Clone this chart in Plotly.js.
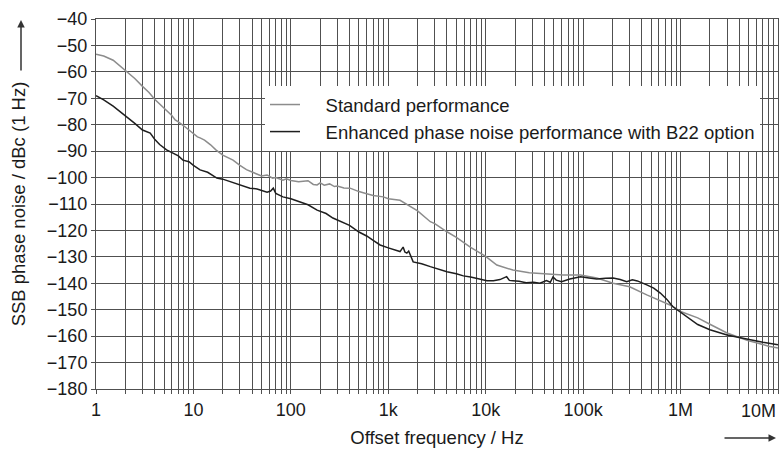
<!DOCTYPE html>
<html>
<head>
<meta charset="utf-8">
<script src="https://cdn.plot.ly/plotly-3.0.1.min.js"></script>
<style>html,body{margin:0;padding:0;background:#fff;}#chart{width:781px;height:451px;}</style>
</head>
<body>
<div id="chart"></div>
<script>
// Offset frequency (Hz) and SSB phase noise (dBc/Hz)
var stdFreq = [1,1.2,1.5,2,2.5,3,3.5,4,5,6,6.5,7,8,9,10,11,11.7,13,15,17,20,25.5,30,35,40,45,50,57,65,70,83,90,100,120,150,170,186,200,220,250,280,300,350,405,450,500,600,700,890,1000,1320,1500,2000,2700,3000,4000,5000,7000,8800,10000,13000,19000,28000,42000,62000,94000,138000,203000,300000,450000,670000,800000,1000000,1200000,1500000,2000000,3000000,4000000,5000000,6000000,7000000,8000000,10000000];
var stdNoise = [-53.3,-54.0,-55.6,-59.5,-62.5,-65.5,-67.8,-70.4,-73.8,-76.5,-78.2,-78.9,-80.5,-82.0,-83.6,-84.6,-85.0,-85.8,-87.6,-89.5,-91.5,-93.4,-95.4,-97.0,-97.9,-98.8,-99.4,-99.0,-100.2,-100.0,-101.0,-100.5,-101.1,-101.6,-101.2,-102.6,-102.8,-102.0,-102.9,-102.4,-103.4,-103.2,-103.9,-104.0,-104.8,-105.3,-106.1,-106.8,-107.3,-108.0,-108.6,-109.8,-112.6,-116.7,-117.4,-120.5,-122.6,-126.4,-128.7,-129.8,-133.1,-135.0,-136.0,-136.5,-136.9,-136.9,-138.0,-140.0,-141.3,-144.4,-147.0,-148.4,-150.7,-151.9,-153.1,-155.5,-158.8,-160.5,-161.8,-162.5,-163.2,-163.8,-164.5];

var enhFreq = [1,1.2,1.5,2,2.5,3,3.6,4,4.5,5.3,6,7,7.8,9,10,11.7,14,17.4,20,25.5,30,38,45,50,57,62,66,70,83,100,124,150,186,230,270,330,400,500,600,700,824,1000,1320,1420,1480,1550,1620,1800,2200,2700,3300,4000,5000,5900,7000,8800,10300,12000,14000,16400,17500,19000,22000,26000,31000,36000,42000,46000,49000,53000,60000,73000,94000,115000,138000,170000,203000,240000,280000,320000,360000,450000,530000,620000,720000,830000,1000000,1200000,1500000,2000000,3000000,4000000,5000000,7000000,10000000];
var enhNoise = [-69.0,-70.6,-73.0,-76.5,-79.5,-82.0,-83.2,-85.5,-87.5,-89.5,-90.6,-91.8,-93.4,-94.0,-95.4,-97.1,-98.0,-100.2,-100.6,-102.0,-102.8,-104.0,-104.3,-104.8,-105.5,-105.1,-104.0,-106.0,-107.3,-108.0,-109.2,-110.3,-112.3,-113.6,-115.3,-116.6,-118.1,-120.6,-122.1,-123.8,-125.5,-126.6,-128.0,-126.3,-128.2,-128.6,-127.8,-131.9,-132.6,-133.7,-134.8,-135.6,-136.4,-137.2,-137.6,-138.4,-139.0,-139.0,-138.6,-137.5,-138.9,-139.0,-139.2,-139.8,-139.6,-140.0,-139.0,-139.6,-137.6,-138.8,-139.4,-138.4,-137.5,-138.0,-138.4,-138.1,-138.0,-138.6,-139.4,-138.7,-139.1,-140.6,-141.8,-143.7,-146.0,-148.8,-151.0,-153.2,-155.6,-157.6,-159.6,-160.5,-161.3,-162.3,-163.3];

var seriesNames = ['Standard performance', 'Enhanced phase noise performance with B22 option'];
var yTicks = [-40,-50,-60,-70,-80,-90,-100,-110,-120,-130,-140,-150,-160,-170,-180];
var xDecades = [1,10,100,1000,10000,100000,1000000,10000000];
var xDecadeLabels = ['1','10','100','1k','10k','100k','1M','10M'];

var pad = '\u00a0\u00a0\u00a0\u00a0';
var FONT = 'Liberation Sans, Arial, sans-serif';

// full 1..9 grid per decade
var xTickVals = [], xTickText = [];
for (var d = 0; d < xDecades.length - 1; d++) {
  for (var m = 1; m <= 9; m++) {
    xTickVals.push(xDecades[d] * m);
    xTickText.push(m === 1 ? xDecadeLabels[d] : '');
  }
}
xTickVals.push(xDecades[xDecades.length - 1]);
xTickText.push('');

var yTickText = yTicks.map(function (v) { return '\u2212' + Math.abs(v); });

var traces = [
  {x: stdFreq, y: stdNoise, name: pad + seriesNames[0], type: 'scatter', mode: 'lines',
   line: {color: '#8c8c8c', width: 1.5}},
  {x: enhFreq, y: enhNoise, name: pad + seriesNames[1], type: 'scatter', mode: 'lines',
   line: {color: '#1e1e1e', width: 1.5}}
];

var gridC = '#505050';
var txtC = '#1a1a1a';
var layout = {
  width: 781, height: 451,
  margin: {l: 96, r: 3, t: 19, b: 62},
  paper_bgcolor: '#ffffff', plot_bgcolor: '#ffffff',
  font: {family: FONT, size: 18.5, color: txtC},
  showlegend: true,
  legend: {x: (265 - 96) / 682, y: (389 - 86) / 370, xanchor: 'left', yanchor: 'top',
           bgcolor: '#ffffff', borderwidth: 0, font: {family: FONT, size: 18.5, color: txtC},
           tracegroupgap: 0},
  xaxis: {type: 'log', range: [0, 7], tickmode: 'array', tickvals: xTickVals, ticktext: xTickText,
          showgrid: true, gridcolor: gridC, gridwidth: 1, ticks: 'outside', ticklen: 4, tickcolor: gridC,
          showline: true, mirror: true, linecolor: gridC, linewidth: 1, zeroline: false,
          tickfont: {family: FONT, size: 18, color: txtC},
          title: {text: 'Offset frequency / Hz', font: {family: FONT, size: 18.5, color: txtC}, standoff: 12}},
  yaxis: {range: [-180, -40], tickmode: 'array', tickvals: yTicks, ticktext: yTickText,
          showgrid: true, gridcolor: gridC, gridwidth: 1, ticks: 'outside', ticklen: 4, tickcolor: gridC,
          showline: true, mirror: true, linecolor: gridC, linewidth: 1, zeroline: false,
          tickfont: {family: FONT, size: 18, color: txtC},
          title: {text: 'SSB phase noise / dBc (1 Hz)', font: {family: FONT, size: 18.5, color: txtC}, standoff: 16}},
  annotations: [
    {xref: 'x', yref: 'paper', x: 7, y: 0, xanchor: 'right', yanchor: 'top', yshift: -10,
     text: xDecadeLabels[xDecadeLabels.length - 1], showarrow: false,
     font: {family: FONT, size: 18, color: txtC}},
    {xref: 'paper', yref: 'paper', x: (21 - 96) / 682, y: (389 - 20) / 370, text: '',
     showarrow: true, arrowhead: 2, arrowsize: 1, arrowwidth: 1.5, arrowcolor: '#333', ax: 0, ay: 52},
    {xref: 'paper', yref: 'paper', x: (776 - 96) / 682, y: (389 - 438) / 370, text: '',
     showarrow: true, arrowhead: 2, arrowsize: 1, arrowwidth: 1.5, arrowcolor: '#333', ax: -53, ay: 0}
  ]
};

Plotly.newPlot('chart', traces, layout, {displayModeBar: false, staticPlot: true});
</script>
</body>
</html>
